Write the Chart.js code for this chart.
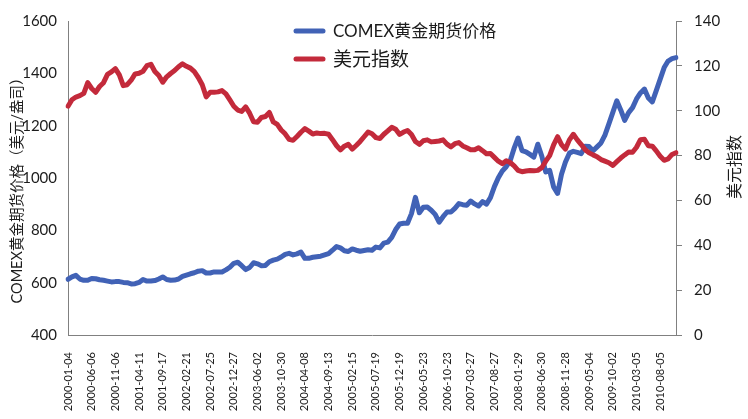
<!DOCTYPE html>
<html>
<head>
<meta charset="utf-8">
<script src="https://cdn.jsdelivr.net/npm/chart.js@4.4.1/dist/chart.umd.min.js"></script>
<style>
  html, body { margin: 0; padding: 0; background: #fff; }
  #wrap { width: 748px; height: 419px; position: relative; }
</style>
</head>
<body>
<div id="wrap"><canvas id="grafico" width="748" height="419"></canvas></div>
<script>
const tickDates = [
  '2000-01-04', '2000-06-06', '2000-11-06', '2001-04-11', '2001-09-17', '2002-02-21',
  '2002-07-25', '2002-12-27', '2003-06-02', '2003-10-30', '2004-04-08', '2004-09-13',
  '2005-02-15', '2005-07-19', '2005-12-19', '2006-05-23', '2006-10-23', '2007-03-27',
  '2007-08-27', '2008-01-29', '2008-06-30', '2008-11-28', '2009-05-04', '2009-10-02',
  '2010-03-05', '2010-08-05'
];
const pointsPerTick = 6;

// COMEX黄金期货价格 (left axis)
const goldPrice = [
  613, 622, 628, 614, 609, 609, 616, 615, 611, 609,
  606, 603, 604, 604, 601, 600, 595, 596, 601, 612,
  606, 606, 608, 614, 622, 612, 609, 610, 614, 624,
  629, 634, 638, 644, 646, 637, 637, 641, 641, 641,
  649, 659, 674, 678, 665, 650, 658, 676, 672, 665,
  666, 680, 686, 690, 698, 708, 712, 706, 710, 717,
  693, 693, 697, 699, 701, 706, 711, 724, 738, 733,
  722, 719, 729, 724, 720, 723, 726, 724, 736, 733,
  751, 755, 773, 803, 824, 827, 827, 864, 926, 867,
  888, 889, 877, 861, 831, 852, 870, 870, 884, 902,
  898, 896, 912, 901, 893, 910, 900, 925, 967, 1001,
  1027, 1043, 1066, 1114, 1153, 1105, 1100, 1090, 1080, 1129,
  1084, 1023, 1029, 966, 941, 1014, 1061, 1095, 1102, 1098,
  1093, 1121, 1120, 1104, 1119, 1134, 1164, 1207, 1251, 1295,
  1260, 1220, 1250, 1269, 1302, 1325, 1340, 1306, 1291, 1334,
  1378, 1422, 1447, 1456, 1460
];

// 美元指数 (right axis)
const dollarIndex = [
  102.0, 104.9, 106.1, 106.7, 107.7, 112.5, 109.9, 108.2, 110.8, 112.5,
  116.2, 117.3, 118.8, 116.0, 111.2, 111.6, 113.6, 116.4, 116.7, 117.6,
  120.1, 120.7, 117.5, 115.7, 112.7, 115.1, 116.6, 117.9, 119.6, 120.9,
  119.8, 119.0, 117.4, 114.8, 111.6, 106.2, 108.2, 108.2, 108.4, 109.0,
  107.5, 104.8, 102.0, 100.3, 99.7, 101.7, 98.9, 95.1, 94.9, 97.0,
  97.4, 99.2, 95.0, 93.9, 91.4, 89.7, 87.2, 86.8, 88.5, 90.4,
  92.0, 90.9, 89.6, 90.1, 89.8, 89.9, 89.5, 87.1, 84.5, 82.5,
  84.2, 85.0, 82.9, 84.5, 86.3, 88.4, 90.5, 89.7, 88.0, 87.6,
  89.5, 91.0, 92.6, 91.7, 89.4, 90.5, 91.2, 89.4, 86.3, 85.0,
  86.6, 87.0, 86.1, 86.3, 86.5, 87.0, 85.1, 83.9, 85.3, 85.8,
  84.3, 83.5, 82.6, 82.6, 83.5, 82.2, 80.8, 80.9, 79.2, 77.5,
  76.4, 77.7, 76.9, 75.4, 73.4, 72.8, 73.1, 73.3, 73.2, 73.4,
  74.6, 77.5, 80.0, 84.8, 88.4, 84.9, 82.9, 87.0, 89.5, 87.0,
  84.9, 82.6, 81.2, 80.3, 79.5, 78.2, 77.5, 76.8, 75.6, 77.3,
  78.9, 80.3, 81.6, 81.5, 83.7, 87.1, 87.3, 84.4, 84.2, 82.1,
  79.7, 77.9, 78.5, 80.5, 81.3
];

const seriesNames = ['COMEX黄金期货价格', '美元指数'];
const leftTitle = 'COMEX黄金期货价格（美元/盎司）';
const rightTitle = '美元指数';

const azul = '#4162b6';
const rojo = '#c32a3b';
const gris = '#808080';
const texto = '#1c1c1c';
const fuente = "Lato, 'Noto Sans CJK SC', sans-serif";

const labels = goldPrice.map((v, i) => i % pointsPerTick === 0 ? tickDates[i / pointsPerTick] : '');

// legend + axis titles drawn by hand
const extras = {
  id: 'extras',
  afterDraw(chart) {
    const ctx = chart.ctx;
    ctx.save();
    const filas = [
      { color: azul, text: seriesNames[0], y: 31, size: 17 },
      { color: rojo, text: seriesNames[1], y: 59, size: 19 }
    ];
    filas.forEach(f => {
      ctx.strokeStyle = f.color;
      ctx.lineWidth = 5;
      ctx.lineCap = 'round';
      ctx.beginPath();
      ctx.moveTo(296, f.y);
      ctx.lineTo(323, f.y);
      ctx.stroke();
      ctx.fillStyle = texto;
      ctx.font = f.size + 'px ' + fuente;
      ctx.textBaseline = 'middle';
      ctx.textAlign = 'left';
      ctx.fillText(f.text, 333, f.y + 1);
    });

    ctx.fillStyle = texto;
    ctx.textAlign = 'center';
    ctx.textBaseline = 'middle';
    ctx.font = '14.5px ' + fuente;
    ctx.save();
    ctx.translate(17, 187);
    ctx.rotate(-Math.PI / 2);
    ctx.fillText(leftTitle, 0, 0);
    ctx.restore();

    ctx.font = '16px ' + fuente;
    ctx.save();
    ctx.translate(735, 167);
    ctx.rotate(-Math.PI / 2);
    ctx.fillText(rightTitle, 0, 0);
    ctx.restore();
    ctx.restore();
  }
};

const ctx = document.getElementById('grafico').getContext('2d');
new Chart(ctx, {
  type: 'line',
  data: {
    labels: labels,
    datasets: [
      {
        label: seriesNames[0],
        data: goldPrice,
        yAxisID: 'y',
        borderColor: azul,
        borderWidth: 5,
        pointRadius: 0,
        tension: 0,
        borderJoinStyle: 'round',
        borderCapStyle: 'round',
        order: 2
      },
      {
        label: seriesNames[1],
        data: dollarIndex,
        yAxisID: 'y1',
        borderColor: rojo,
        borderWidth: 5,
        pointRadius: 0,
        tension: 0,
        borderJoinStyle: 'round',
        borderCapStyle: 'round',
        order: 1
      }
    ]
  },
  options: {
    responsive: false,
    animation: false,
    layout: { padding: { top: 14, bottom: 0, left: 0, right: 0 } },
    plugins: {
      legend: { display: false },
      tooltip: { enabled: false }
    },
    scales: {
      x: {
        type: 'category',
        offset: false,
        grid: { display: false, drawTicks: false, tickLength: 0 },
        border: { display: true, color: gris, width: 1 },
        ticks: {
          autoSkip: false,
          maxRotation: 90,
          minRotation: 90,
          padding: 17,
          color: texto,
          font: { family: fuente, size: 11 }
        },
        afterFit(scale) { scale.height = 84; }
      },
      y: {
        position: 'left',
        min: 400,
        max: 1600,
        grid: { display: false, drawTicks: false, tickLength: 0 },
        border: { display: true, color: gris, width: 1 },
        ticks: {
          stepSize: 200,
          padding: 11,
          color: texto,
          font: { family: fuente, size: 15 },
          callback: v => String(v)
        },
        afterFit(scale) { scale.width = 68; }
      },
      y1: {
        position: 'right',
        min: 0,
        max: 140,
        grid: { drawOnChartArea: false, drawTicks: true, tickLength: 6, color: gris },
        border: { display: true, color: gris, width: 1 },
        ticks: {
          stepSize: 20,
          padding: 12,
          color: texto,
          font: { family: fuente, size: 15 },
          callback: v => String(v)
        },
        afterFit(scale) { scale.width = 72; }
      }
    }
  },
  plugins: [extras]
});
</script>
</body>
</html>
